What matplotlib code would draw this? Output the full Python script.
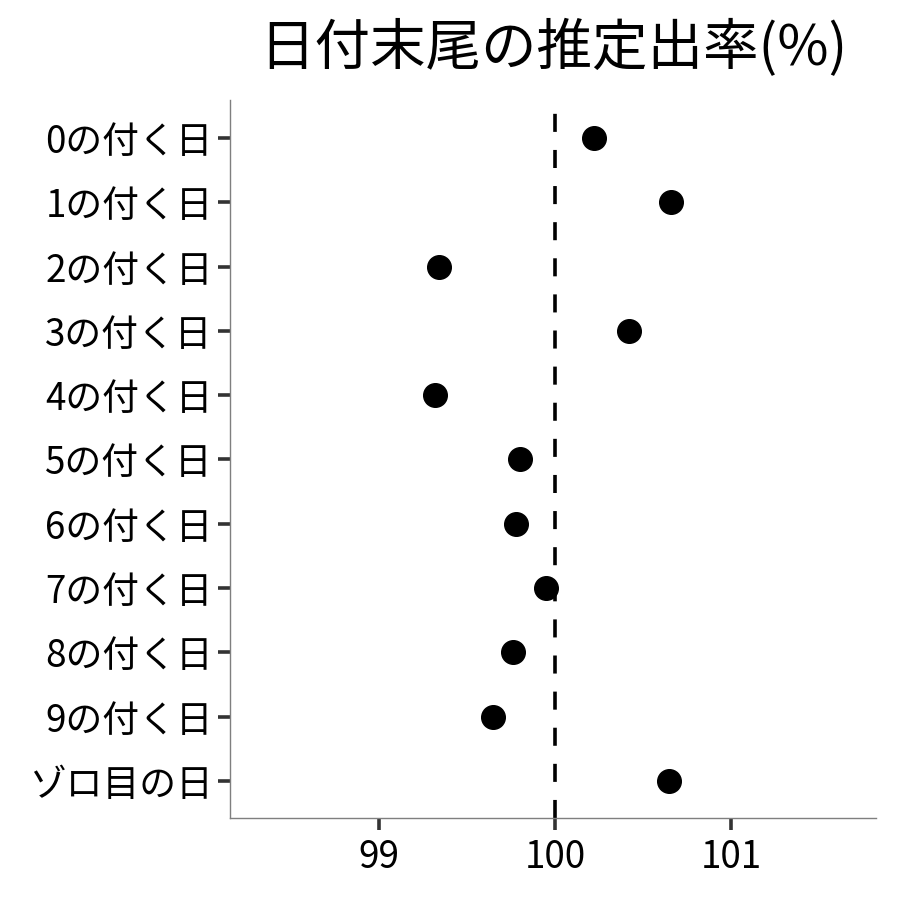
import matplotlib
matplotlib.use("Agg")
import matplotlib.pyplot as plt

plt.rcParams['font.family'] = ['Noto Sans CJK JP', 'DejaVu Sans']

# categories, top to bottom
labels = ["0の付く日", "1の付く日", "2の付く日", "3の付く日", "4の付く日",
          "5の付く日", "6の付く日", "7の付く日", "8の付く日", "9の付く日",
          "ゾロ目の日"]
rates = [100.22, 100.66, 99.34, 100.42, 99.32,
         99.80, 99.78, 99.95, 99.76, 99.65, 100.65]
xticks = [99, 100, 101]
title = "日付末尾の推定出率(%)"

fig = plt.figure(figsize=(9, 9), dpi=100)
ax = fig.add_axes([0.2556, 0.0911, 0.7177, 0.7978])

ypos = list(range(len(labels) - 1, -1, -1))
ax.axvline(100, color="black", lw=2.6, linestyle=(0, (5, 5)), zorder=1)
ax.plot(rates, ypos, "o", color="black", markersize=17, zorder=2)

ax.set_xlim(98.153, 101.824)
ax.set_ylim(-0.575, len(labels) - 1 + 0.59)
ax.set_xticks(xticks)
ax.set_xticklabels([str(t) for t in xticks])
ax.set_yticks(ypos)
ax.set_yticklabels(labels)

for side in ["top", "right"]:
    ax.spines[side].set_visible(False)
for side in ["left", "bottom"]:
    ax.spines[side].set_color("#7f7f7f")
    ax.spines[side].set_linewidth(1.0)

ax.tick_params(axis="both", length=8.5, width=2.6, color="#333333",
               labelsize=26.5, labelcolor="black", pad=4)
ax.tick_params(axis="x", pad=6)

fig.text(0.6144, 0.946, title, ha="center", va="center", fontsize=40)

fig.savefig("out.png", dpi=100)
